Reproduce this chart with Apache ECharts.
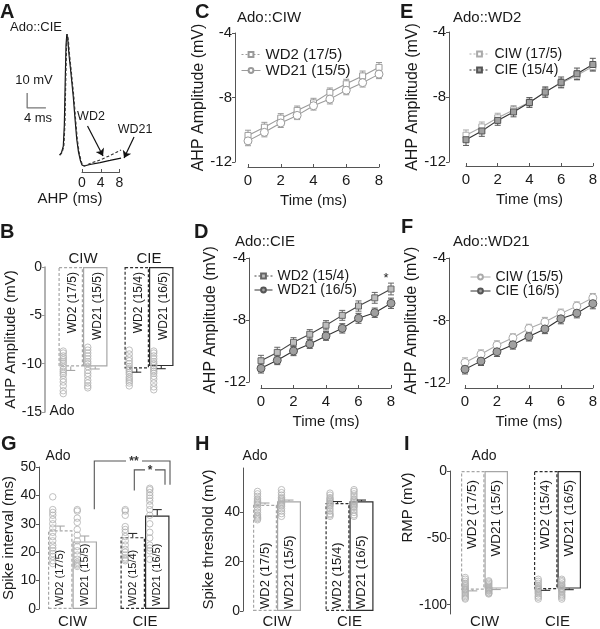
<!DOCTYPE html>
<html><head><meta charset="utf-8">
<script src="https://cdn.jsdelivr.net/npm/echarts@6/dist/echarts.min.js"></script>
<style>html,body{margin:0;padding:0;background:#fff}#c{width:600px;height:629px}</style>
</head><body><div id="c"></div>
<script>
// ---------------- DATA ----------------
// Panel A: example trace (time ms relative to AHP start, membrane potential mV)
const traceSpikeTime = [-4.80,-4.37,-3.99,-3.77,-3.58,-3.41,-3.24,-3.03,-2.77,-2.41,-1.86,-1.49,-1.13,-0.75,-0.32,0,0.43];
const traceSpikeVolt = [-52.7,-51,-46.7,-32.7,-2.7,20.7,28,24,14,3.3,-14,-28.7,-42,-50.7,-56.7,-59.3,-60];
const traceAhpTime = [1.71,3.84,5.97,8.32];
const traceAhpWD21 = [-59,-57.7,-56.3,-54.7];
const traceAhpWD2 = [-58.3,-56,-53,-49.3];
const scaleBarTime = [-11.7,-11.7,-7.7];
const scaleBarVolt = [-11.3,-21.3,-21.3];
const arrowWD2 = [[1.17,-33.3],[4.48,-53.3]];
const arrowWD21 = [[11.09,-40.7],[8.96,-54.7]];

// Panels C-F: AHP amplitude over time
const timeMs = [0,1,2,3,4,5,6,7,8];
const ciwWD2 = [-10.35,-9.84,-9.28,-8.80,-8.33,-7.68,-7.15,-6.66,-6.13];
const ciwWD2Sem = [0.32,0.30,0.28,0.27,0.28,0.27,0.28,0.30,0.30];
const ciwWD21 = [-10.69,-10.16,-9.58,-9.11,-8.51,-8.10,-7.55,-7.08,-6.55];
const ciwWD21Sem = [0.30,0.28,0.28,0.26,0.27,0.30,0.28,0.27,0.28];
const cieWD2 = [-10.63,-10.09,-9.44,-8.92,-8.34,-7.70,-7.10,-6.57,-6.00];
const cieWD2Sem = [0.35,0.33,0.30,0.30,0.30,0.32,0.33,0.35,0.38];
const cieWD21 = [-11.12,-10.60,-10.00,-9.55,-9.03,-8.54,-7.89,-7.53,-6.92];
const cieWD21Sem = [0.30,0.28,0.30,0.28,0.28,0.30,0.32,0.30,0.33];

// Bar panels: categories CIW, CIE
const groups = ['CIW','CIE'];
const wd2Labels = ['WD2 (17/5)','WD2 (15/4)'];
const wd21Labels = ['WD21 (15/5)','WD21 (16/5)'];

// B: AHP amplitude (mV)
const ahpWD2Mean = [-10.3,-10.5];
const ahpWD2Sem = [0.4,0.38];
const ahpWD21Mean = [-10.3,-10.25];
const ahpWD21Sem = [0.25,0.27];
const ahpPtsCiwWD2 = [-8.7,-8.9,-9.2,-9.4,-9.6,-9.8,-10.0,-10.3,-10.6,-10.8,-11.0,-11.2,-11.6,-11.9,-12.3,-12.8,-13.1];
const ahpPtsCiwWD21 = [-8.3,-8.6,-8.9,-9.2,-9.5,-9.8,-10.0,-10.3,-10.7,-11.0,-11.3,-11.7,-12.0,-12.3,-12.5];
const ahpPtsCieWD2 = [-8.6,-9.0,-9.4,-9.7,-10.0,-10.3,-10.5,-10.7,-10.9,-11.1,-11.4,-11.6,-11.8,-12.0,-12.3];
const ahpPtsCieWD21 = [-8.7,-8.9,-9.2,-9.5,-9.8,-10.0,-10.2,-10.4,-10.6,-10.8,-11.0,-11.3,-11.6,-12.0,-12.4,-12.7];

// G: spike interval (ms)
const intWD2Mean = [27.7,25.3];
const intWD2Sem = [1.5,1.3];
const intWD21Mean = [23.8,32.9];
const intWD21Sem = [1.9,2.1];
const intPtsCiwWD2 = [16,17,18.5,19.5,20.5,21.5,22.5,24,25.5,27,28.5,30,31.5,33,34,35,39.5];
const intPtsCiwWD21 = [15,15.5,16,16.5,17.5,19,20.5,22,24,26,28,30.5,32,34.5,35];
const intPtsCieWD2 = [17,17.5,18,19,20,21,22.5,24,25.5,27,28,29,33,34.5,35];
const intPtsCieWD21 = [17.5,20.5,21.5,22.5,25,27,30,33,35,36.5,38,39,40,41,42,42.5];

// H: spike threshold (mV)
const thrWD2Mean = [43.1,43.8];
const thrWD2Sem = [0.7,0.6];
const thrWD21Mean = [44.5,44.5];
const thrWD21Sem = [0.5,0.5];
const thrPtsCiwWD2 = [37,37.5,38,38.5,39,40,41,42,43,43.5,44,44.5,45,45.5,46.5,47.5,48.5];
const thrPtsCiwWD21 = [38.4,39.5,40.5,41.5,42.5,43,43.5,44,44.5,45,45.5,46,47,48,49.2];
const thrPtsCieWD2 = [38.4,39,39.5,40.5,41.5,42.5,43,43.5,44,44.5,45,45.5,46,47,47.8];
const thrPtsCieWD21 = [38.4,39,40,41,42,42.5,43,43.5,44,44.5,45,45.5,46.5,47.5,48.5,49.2];

// I: RMP (mV)
const rmpWD2Mean = [-88.9,-88.4];
const rmpWD2Sem = [0.8,0.9];
const rmpWD21Mean = [-88.0,-88.0];
const rmpWD21Sem = [0.7,0.8];
const rmpPtsCiwWD2 = [-79.7,-81,-82.5,-84,-85,-86,-87,-88,-88.5,-89,-90,-91,-92,-93,-94,-95,-95.8];
const rmpPtsCiwWD21 = [-82.2,-83,-84,-85,-86,-87,-87.5,-88,-88.5,-89,-89.5,-90,-91,-91.5,-92];
const rmpPtsCieWD2 = [-81,-82.5,-84,-85.5,-86.5,-87.5,-88,-88.5,-89,-90,-91,-92,-93.5,-94.5,-95.8];
const rmpPtsCieWD21 = [-81,-82,-83,-84.5,-85.5,-86.5,-87.5,-88,-88.5,-89,-90,-91,-92.5,-93.5,-94.5,-95.8];

// ---------------- STYLE / LAYOUT ----------------
const F = "'Liberation Sans', Arial, Helvetica, sans-serif";
const TXT = '#1a1a1a';
const AX = '#555';
const CIW_C = '#a6a6a6', CIE_C = '#2e2e2e', PT_C = '#b0b0b0';

const grids = [
  {left:23.4, top:25, width:114.9, height:150},   //0 A trace
  {left:82, top:160, width:37.5, height:12},      //1 A AHP axis
  {left:248, top:33, width:131, height:129},      //2 C
  {left:261, top:258, width:130, height:124},     //3 D
  {left:466, top:32, width:128, height:130},      //4 E
  {left:465, top:258, width:130, height:125},     //5 F
  {left:50, top:267, width:132, height:145},      //6 B
  {left:36.25, top:467, width:145, height:144},   //7 G
  {left:240.75, top:468, width:145, height:143.6},//8 H
  {left:448, top:471, width:146, height:144.5}    //9 I
];

function lineX(gi, off, gap){
  return {gridIndex:gi, type:'value', min:0, max:8, interval:2, offset:off,
    axisLine:{onZero:false, lineStyle:{color:AX, width:1}},
    axisTick:{inside:true, length:3, lineStyle:{color:AX}},
    splitLine:{show:false},
    axisLabel:{fontSize:15, color:TXT, margin:6, fontFamily:F},
    name:'Time (ms)', nameLocation:'middle', nameGap:gap,
    nameTextStyle:{fontSize:15, color:TXT, fontFamily:F}};
}
function lineY(gi, off, gap){
  return {gridIndex:gi, type:'value', min:-12, max:-4, interval:4, offset:off,
    axisLine:{show:true, onZero:false, lineStyle:{color:AX, width:1}},
    axisTick:{show:true, length:3, lineStyle:{color:AX}},
    splitLine:{show:false},
    axisLabel:{fontSize:15, color:TXT, margin:3, fontFamily:F},
    name:'AHP Amplitude (mV)', nameLocation:'middle', nameGap:gap,
    nameTextStyle:{fontSize:16, color:TXT, fontFamily:F}};
}
function catX(gi, pos, margin){
  return {gridIndex:gi, type:'category', data:groups, position:pos,
    axisLine:{show:false, onZero:false}, axisTick:{show:false},
    axisLabel:{fontSize:15, color:TXT, margin:margin, fontFamily:F}};
}
function barY(gi, o){
  const ax = {gridIndex:gi, type:'value', min:o.min, max:o.max, offset:o.offset,
    axisLine:{show:true, onZero:false, lineStyle:{color:o.lineColor||AX, width:o.lw||1}},
    axisTick:{show:true, length:3, lineStyle:{color:o.lineColor||AX}},
    splitLine:{show:false},
    axisLabel:{fontSize:14, color:TXT, margin:3, fontFamily:F},
    name:o.name, nameLocation:'middle', nameGap:o.nameGap,
    nameTextStyle:Object.assign({fontSize:15, color:TXT, fontFamily:F}, o.nameStyle||{})};
  if (o.interval) ax.interval = o.interval;
  if (o.custom){ ax.axisLabel.customValues = o.custom; ax.axisTick.customValues = o.custom; }
  return ax;
}

function errRender(color, cw){
  return function(params, api){
    const t = api.value(0), v = api.value(1), s = api.value(2);
    const a = api.coord([t, v + s]), b = api.coord([t, v - s]);
    const st = {stroke:color, lineWidth:1};
    return {type:'group', children:[
      {type:'line', shape:{x1:a[0], y1:a[1], x2:b[0], y2:b[1]}, style:st},
      {type:'line', shape:{x1:a[0]-cw, y1:a[1], x2:a[0]+cw, y2:a[1]}, style:st},
      {type:'line', shape:{x1:b[0]-cw, y1:b[1], x2:b[0]+cw, y2:b[1]}, style:st}
    ]};
  };
}

function lineSeries(gi, name, vals, sems, st){
  return [{
    type:'line', name:name, xAxisIndex:gi, yAxisIndex:gi,
    data: timeMs.map((t,i)=>[t, vals[i]]),
    symbol:st.symbol, symbolSize:st.size, showSymbol:true,
    lineStyle:{color:st.line, width:1.1},
    itemStyle:{color:st.fill, borderColor:st.border, borderWidth:1},
    z:4, silent:true
  },{
    type:'custom', xAxisIndex:gi, yAxisIndex:gi,
    data: timeMs.map((t,i)=>[t, vals[i], sems[i]]),
    renderItem: errRender(st.border, 3), z:3, silent:true
  }];
}

function barPanel(gi, sp){
  const half = sp.barW / 2;
  const colors = [CIW_C, CIE_C];
  const out = [];
  const keys = [
    {mean:sp.wd2Mean, sem:sp.wd2Sem, pts:sp.wd2Pts, labels:wd2Labels, side:-1, dashed:true},
    {mean:sp.wd21Mean, sem:sp.wd21Sem, pts:sp.wd21Pts, labels:wd21Labels, side:1, dashed:false}
  ];
  keys.forEach(k => {
    out.push({type:'bar', xAxisIndex:gi, yAxisIndex:gi, barWidth:sp.barW, barGap:'0%',
      data:k.mean.map((m,i)=>({value:m, itemStyle:{color:'rgba(255,255,255,0)', borderColor:colors[i], borderWidth:1.2, borderType:k.dashed ? [3,2] : 'solid'}})),
      z:2, silent:true});
  });
  keys.forEach(k => {
    const data = [];
    k.pts.forEach((arr,i)=>arr.forEach(v=>data.push([i, v])));
    out.push({type:'scatter', xAxisIndex:gi, yAxisIndex:gi, data:data,
      symbol:'circle', symbolSize:6.5, symbolOffset:[k.side*half - 7.5, 0],
      itemStyle:{color:'rgba(255,255,255,0)', borderColor:PT_C, borderWidth:1}, z:3, silent:true});
  });
  keys.forEach(k => {
    out.push({type:'custom', xAxisIndex:gi, yAxisIndex:gi,
      data:k.mean.map((m,i)=>[i, m, k.sem[i]]),
      renderItem:function(params, api){
        const i = api.value(0), m = api.value(1), s = api.value(2);
        const dir = m < 0 ? -1 : 1;
        const a = api.coord([i, m]), b = api.coord([i, m + dir*s]);
        const x = a[0] + k.side*half;
        const st = {stroke:colors[i], lineWidth:1.1};
        return {type:'group', children:[
          {type:'line', shape:{x1:x, y1:a[1], x2:x, y2:b[1]}, style:st},
          {type:'line', shape:{x1:x-4.5, y1:b[1], x2:x+4.5, y2:b[1]}, style:st}
        ]};
      }, z:4, silent:true});
    out.push({type:'custom', xAxisIndex:gi, yAxisIndex:gi,
      data:k.mean.map((m,i)=>[i, 0]),
      renderItem:function(params, api){
        const i = api.value(0);
        const p = api.coord([i, 0]);
        return {type:'text', x:p[0] + k.side*half + (sp.labelDx||0), y:p[1] + sp.labelDy, rotation:Math.PI/2,
          style:{text:k.labels[i], font:sp.labelFont + 'px ' + F, fill:TXT, align:sp.labelAlign, verticalAlign:'middle'}};
      }, z:5, silent:true});
  });
  return out;
}

// significance brackets in G: [category, px offset] anchors, values on the y scale
const sigSpecs = [
  {x1:[0,21.8], x2:[1,25], yL:35.1, yTop:52.1, yR:43.75, text:'**', tx:[1,-11], gap:8},
  {x1:[1,-10.7], x2:[1,20], yL:41.7, yTop:49.0, yR:43.75, text:'*', tx:[1,5], gap:5}
];

const series = [];
// Panel A trace
series.push({type:'line', xAxisIndex:0, yAxisIndex:0, showSymbol:false, silent:true,
  data: traceSpikeTime.map((t,i)=>[t, traceSpikeVolt[i]]).concat(traceAhpTime.map((t,i)=>[t, traceAhpWD21[i]])),
  lineStyle:{color:'#111', width:1.2}, z:3});
series.push({type:'line', xAxisIndex:0, yAxisIndex:0, showSymbol:false, silent:true,
  data: traceSpikeTime.map((t,i)=>[t+0.12, traceSpikeVolt[i]]).concat(traceAhpTime.map((t,i)=>[t, traceAhpWD2[i]])),
  lineStyle:{color:'#333', width:1.1, type:[3,2]}, z:3});
series.push({type:'line', xAxisIndex:0, yAxisIndex:0, showSymbol:false, silent:true,
  data: scaleBarTime.map((t,i)=>[t, scaleBarVolt[i]]),
  lineStyle:{color:'#777', width:1.3}});
series.push({type:'lines', coordinateSystem:'cartesian2d', xAxisIndex:0, yAxisIndex:0, silent:true,
  symbol:['none','arrow'], symbolSize:7, lineStyle:{color:'#111', width:1.2, opacity:1},
  data:[{coords:arrowWD2},{coords:arrowWD21}]});
series.push({type:'line', xAxisIndex:1, yAxisIndex:1, data:[], silent:true});

// C
series.push(...lineSeries(2, 'WD2 (17/5)', ciwWD2, ciwWD2Sem, {symbol:'rect', size:6, line:'#9a9a9a', fill:'#fff', border:'#9a9a9a'}));
series.push(...lineSeries(2, 'WD21 (15/5)', ciwWD21, ciwWD21Sem, {symbol:'circle', size:8, line:'#9a9a9a', fill:'#fff', border:'#9a9a9a'}));
// D
series.push(...lineSeries(3, 'WD2 (15/4)', cieWD2, cieWD2Sem, {symbol:'rect', size:6, line:'#444', fill:'#bdbdbd', border:'#666'}));
series.push(...lineSeries(3, 'WD21 (16/5)', cieWD21, cieWD21Sem, {symbol:'circle', size:8, line:'#333', fill:'#a0a0a0', border:'#555'}));
// E
series.push(...lineSeries(4, 'CIW (17/5)', ciwWD2, ciwWD2Sem, {symbol:'rect', size:6, line:'#aaa', fill:'#fff', border:'#aaa'}));
series.push(...lineSeries(4, 'CIE (15/4)', cieWD2, cieWD2Sem, {symbol:'rect', size:6, line:'#333', fill:'#a0a0a0', border:'#555'}));
// F
series.push(...lineSeries(5, 'CIW (15/5)', ciwWD21, ciwWD21Sem, {symbol:'circle', size:8, line:'#aaa', fill:'#fff', border:'#aaa'}));
series.push(...lineSeries(5, 'CIE (16/5)', cieWD21, cieWD21Sem, {symbol:'circle', size:8, line:'#333', fill:'#a0a0a0', border:'#555'}));

// B
series.push(...barPanel(6, {barW:24.5, wd2Mean:ahpWD2Mean, wd2Sem:ahpWD2Sem, wd21Mean:ahpWD21Mean, wd21Sem:ahpWD21Sem,
  wd2Pts:[ahpPtsCiwWD2, ahpPtsCieWD2], wd21Pts:[ahpPtsCiwWD21, ahpPtsCieWD21], labelFont:12, labelDy:5, labelAlign:'right', labelDx:2}));
// G
series.push(...barPanel(7, {barW:24.5, wd2Mean:intWD2Mean, wd2Sem:intWD2Sem, wd21Mean:intWD21Mean, wd21Sem:intWD21Sem,
  wd2Pts:[intPtsCiwWD2, intPtsCieWD2], wd21Pts:[intPtsCiwWD21, intPtsCieWD21], labelFont:11, labelDy:-3, labelAlign:'left'}));
// H
series.push(...barPanel(8, {barW:24, wd2Mean:thrWD2Mean, wd2Sem:thrWD2Sem, wd21Mean:thrWD21Mean, wd21Sem:thrWD21Sem,
  wd2Pts:[thrPtsCiwWD2, thrPtsCieWD2], wd21Pts:[thrPtsCiwWD21, thrPtsCieWD21], labelFont:13, labelDy:-2, labelAlign:'left'}));
// I
series.push(...barPanel(9, {barW:23.5, wd2Mean:rmpWD2Mean, wd2Sem:rmpWD2Sem, wd21Mean:rmpWD21Mean, wd21Sem:rmpWD21Sem,
  wd2Pts:[rmpPtsCiwWD2, rmpPtsCieWD2], wd21Pts:[rmpPtsCiwWD21, rmpPtsCieWD21], labelFont:13.5, labelDy:9, labelAlign:'right'}));

// G significance brackets
series.push({type:'custom', xAxisIndex:7, yAxisIndex:7, data:[[0,0]], silent:true, z:6, clip:false,
  renderItem:function(params, api){
    const ch = [];
    const st = {stroke:'#555', lineWidth:1.1};
    sigSpecs.forEach(s => {
      const xl = api.coord([s.x1[0], 0])[0] + s.x1[1];
      const xr = api.coord([s.x2[0], 0])[0] + s.x2[1];
      const xt = api.coord([s.tx[0], 0])[0] + s.tx[1];
      const yL = api.coord([0, s.yL])[1], yT = api.coord([0, s.yTop])[1], yR = api.coord([0, s.yR])[1];
      ch.push({type:'polyline', shape:{points:[[xl,yL],[xl,yT],[xt - s.gap, yT]]}, style:Object.assign({fill:'none'}, st)});
      ch.push({type:'polyline', shape:{points:[[xt + s.gap, yT],[xr,yT],[xr,yR]]}, style:Object.assign({fill:'none'}, st)});
      ch.push({type:'text', x:xt, y:yT + 1, style:{text:s.text, font:'bold 12px ' + F, fill:'#333', align:'center', verticalAlign:'middle'}});
    });
    return {type:'group', children:ch};
  }});

const xAxis = [
  {gridIndex:0, type:'value', min:-12.5, max:12, show:false},
  {gridIndex:1, type:'value', min:0, max:8, interval:4,
    axisLine:{onZero:false, lineStyle:{color:'#555'}}, axisTick:{inside:true, length:3, lineStyle:{color:'#555'}},
    axisLabel:{fontSize:14, color:TXT, margin:4, fontFamily:F}, splitLine:{show:false}},
  lineX(2, 5, 26), lineX(3, 6, 26), lineX(4, 4, 26), lineX(5, 5, 26),
  catX(6, 'top', 1), catX(7, 'bottom', 5), catX(8, 'bottom', 3), catX(9, 'bottom', 0)
];
const yAxis = [
  {gridIndex:0, type:'value', min:-66, max:34, show:false},
  {gridIndex:1, type:'value', min:0, max:1, show:false},
  lineY(2, 13, 25), lineY(3, 12, 30), lineY(4, 17, 27), lineY(5, 16, 29),
  barY(6, {min:-15, max:0, interval:5, offset:5, name:'AHP Amplitude (mV)', nameGap:25, lineColor:'#999', lw:1.5}),
  barY(7, {min:0, max:50, interval:10, offset:-2.75, name:'Spike interval (ms)', nameGap:23}),
  barY(8, {min:0, max:58, custom:[0,20,40], offset:-2.25, name:'Spike threshold (mV)', nameGap:27}),
  barY(9, {min:-107, max:0, custom:[0,-50,-100], offset:-2, name:'RMP (mV)', nameGap:29, nameStyle:{padding:[0,0,0,70]}})
];

function lg(left, top, items, fs, gap, iw){
  return {left:left, top:top, orient:'vertical', itemWidth:iw, itemHeight:6, itemGap:gap, selectedMode:false,
    textStyle:{fontSize:fs, color:TXT, fontFamily:F},
    data:items.map(it => ({name:it[0], lineStyle:{type: it[1] ? [2,2] : 'solid', width:1}}))};
}
const legend = [
  lg(236, 42, [['WD2 (17/5)',true],['WD21 (15/5)',false]], 15, 1, 19),
  lg(249, 264, [['WD2 (15/4)',true],['WD21 (16/5)',false]], 14, 0, 18),
  lg(464, 42, [['CIW (17/5)',true],['CIE (15/4)',true]], 14, 2, 20),
  lg(465, 265, [['CIW (15/5)',false],['CIE (16/5)',false]], 14, 0, 20)
];

function T(x, y, s, size, o){
  o = o || {};
  return {type:'text', x:x, y:y, silent:true, z:10,
    style:{text:s, font:(o.bold?'bold ':'') + size + 'px ' + F, fill:o.fill||TXT, align:o.align||'left', verticalAlign:o.va||'middle'}};
}
const graphic = [
  T(0, 2, 'A', 20, {bold:true, va:'top'}),
  T(0, 222, 'B', 20, {bold:true, va:'top'}),
  T(195, 2, 'C', 20, {bold:true, va:'top'}),
  T(194, 222, 'D', 20, {bold:true, va:'top'}),
  T(400, 2, 'E', 20, {bold:true, va:'top'}),
  T(401, 217, 'F', 20, {bold:true, va:'top'}),
  T(1, 434, 'G', 20, {bold:true, va:'top'}),
  T(195, 434, 'H', 20, {bold:true, va:'top'}),
  T(404, 434, 'I', 20, {bold:true, va:'top'}),
  T(10, 27, 'Ado::CIE', 13),
  T(34, 80, '10 mV', 13, {align:'center'}),
  T(38, 118, '4 ms', 13, {align:'center'}),
  T(91, 117, 'WD2', 12.5, {align:'center'}),
  T(135, 130, 'WD21', 12.5, {align:'center'}),
  T(70, 199, 'AHP (ms)', 15, {align:'center'}),
  T(237, 18, 'Ado::CIW', 15),
  T(453, 18, 'Ado::WD2', 15),
  T(235, 242, 'Ado::CIE', 15),
  T(453, 242, 'Ado::WD21', 15),
  T(386, 278, '*', 13, {align:'center'}),
  T(62, 411, 'Ado', 14, {align:'center'}),
  T(58, 456, 'Ado', 14, {align:'center'}),
  T(255, 456, 'Ado', 14, {align:'center'}),
  T(484, 456, 'Ado', 14, {align:'center'})
];

const chart = echarts.init(document.getElementById('c'));
chart.setOption({
  animation:false,
  backgroundColor:'#fff',
  textStyle:{fontFamily:F},
  grid:grids,
  xAxis:xAxis,
  yAxis:yAxis,
  legend:legend,
  series:series,
  graphic:graphic
});
</script>
</body></html>
